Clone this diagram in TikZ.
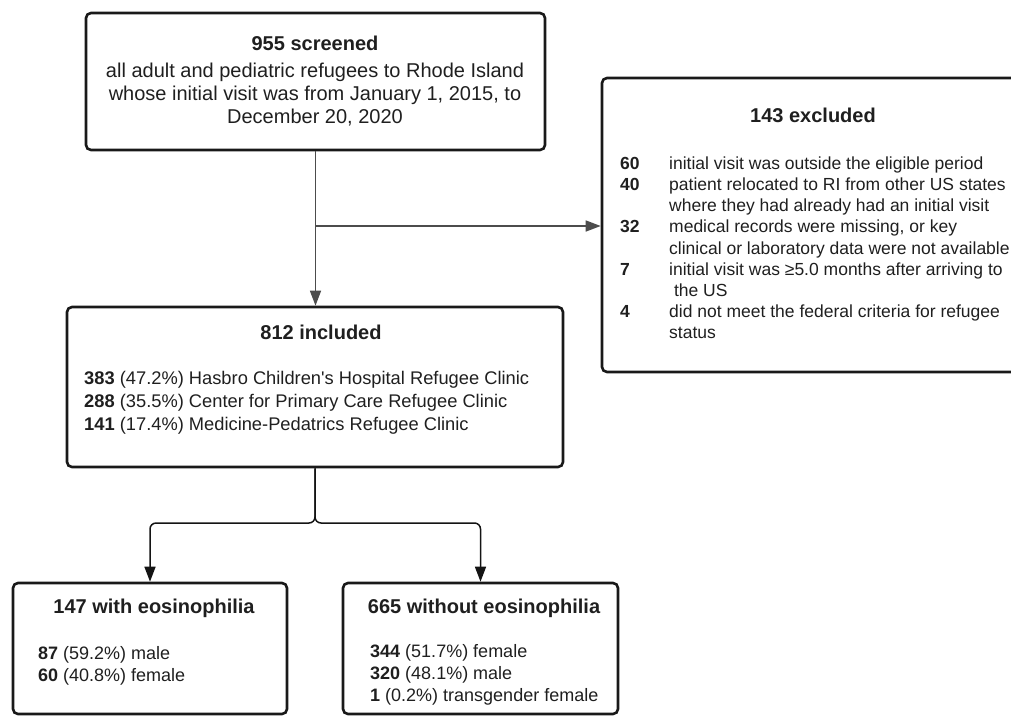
\documentclass[tikz,border=0pt]{standalone}
\usepackage{fontspec}
\setmainfont{Liberation Sans}
\usetikzlibrary{positioning, arrows.meta}

\begin{document}
\begin{tikzpicture}[x=1pt, y=-1pt, >={Triangle[length=15pt, width=11pt]},
    box/.style={draw=black!90, line width=2.6pt, rounded corners=5pt, inner sep=0pt},
    ttl/.style={anchor=base, inner sep=0pt, text=black!88, font=\fontsize{20}{24}\selectfont\bfseries},
    lst/.style={anchor=base west, align=left, inner sep=0pt, text=black!88},
    gline/.style={draw=black!70, line width=1.5pt},
    bline/.style={draw=black!92, line width=1.5pt, rounded corners=6pt}]
    \useasboundingbox (0,0) rectangle (1011,716);
    \clip (0,0) rectangle (1011,716);
    % boxes
    \node[box, minimum width=459pt, minimum height=137pt] (scr) at (315.5,81.5) {};
    \node[box, minimum width=496pt, minimum height=160pt] (inc) at (315,387) {};
    \node[box, minimum width=422pt, minimum height=294pt] (exc) at (813,225) {};
    \node[box, minimum width=274pt, minimum height=131pt] (with) at (150,648.5) {};
    \node[box, minimum width=275pt, minimum height=131pt] (wo) at (480.5,648.5) {};
    % texts (multi-line nodes sit on their last baseline)
    \node[ttl] (scrT) at (315,50) {955 screened};
    \node[anchor=base, align=center, inner sep=0pt, text=black!88, font=\fontsize{20}{23}\selectfont] (scrB) at (315,123)
      {all adult and pediatric refugees to Rhode Island\\whose initial visit was from January 1, 2015, to\\December 20, 2020};
    \node[ttl] (incT) at (321,339) {812 included};
    \node[lst, font=\fontsize{18.3}{23}\selectfont] (incL) at (84,430)
      {\textbf{383} (47.2\%) Hasbro Children\textquotesingle s Hospital Refugee Clinic\\
       \textbf{288} (35.5\%) Center for Primary Care Refugee Clinic\\
       \textbf{141} (17.4\%) Medicine-Pedatrics Refugee Clinic};
    \node[ttl] (excT) at (813,122) {143 excluded};
    \node[lst, font=\fontsize{17.5}{21.2}\selectfont] (excL) at (620,169.3)
      {\begin{tabular}[t]{@{}p{49pt}@{}l@{}}
       \textbf{60} & initial visit was outside the eligible period\\
       \textbf{40} & patient relocated to RI from other US states\\
                   & where they had already had an initial visit\\
       \textbf{32} & medical records were missing, or key\\
                   & clinical or laboratory data were not available\\
       \textbf{7}  & initial visit was ≥5.0 months after arriving to\\
                   & \ the US\\
       \textbf{4}  & did not meet the federal criteria for refugee\\
                   & status
       \end{tabular}};
    \node[ttl] (withT) at (154,613) {147 with eosinophilia};
    \node[lst, font=\fontsize{18}{22}\selectfont] (withL) at (38,681)
      {\textbf{87} (59.2\%) male\\ \textbf{60} (40.8\%) female};
    \node[ttl] (woT) at (484,613) {665 without eosinophilia};
    \node[lst, font=\fontsize{18}{22}\selectfont] (woL) at (370,701)
      {\textbf{344} (51.7\%) female\\ \textbf{320} (48.1\%) male\\ \textbf{1} (0.2\%) transgender female};
    % connectors
    \coordinate (jn) at (315,226);
    \coordinate (fork) at (315,523);
    \draw[gline, ->] (scr.south) -- (scr.south |- inc.north);
    \draw[gline, ->] (jn) -- (jn -| exc.west);
    \draw[bline, ->] (inc.south) -- (fork) -| (with.north);
    \draw[bline, ->] (inc.south) -- (fork) -| (wo.north);
  \end{tikzpicture}
\end{document}
